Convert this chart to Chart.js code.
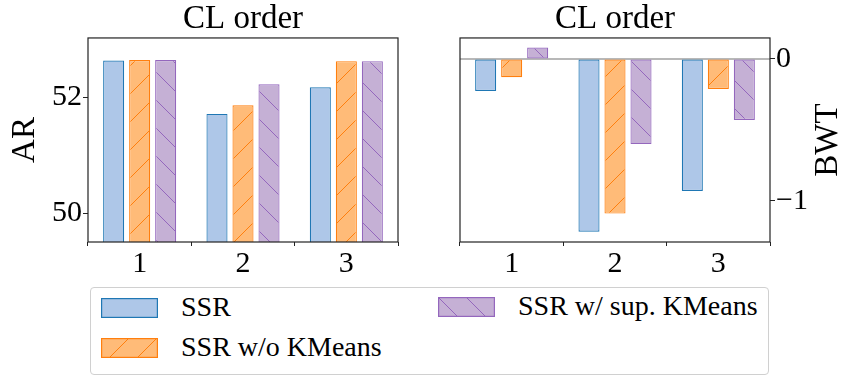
<!DOCTYPE html>
<html>
<head>
<meta charset="utf-8">
<script src="https://cdn.jsdelivr.net/npm/chart.js@4.4.1/dist/chart.umd.min.js"></script>
<style>
  body { margin: 0; background: #fff; width: 858px; height: 392px; position: relative; overflow: hidden; }
  canvas { position: absolute; top: 0; }
  #legend { position: absolute; left: 90px; top: 287px; width: 677px; height: 86px; border: 1px solid #d0d0d0; border-radius: 4px; font-family: "Liberation Serif", serif; font-size: 28px; color: #000; }
  .item { position: absolute; height: 20px; }
  .item canvas { position: absolute; left: 0; top: 0; }
  .item span { position: absolute; left: 80px; top: -7px; white-space: nowrap; line-height: 32px; }
</style>
</head>
<body>
<canvas id="left" width="430" height="280" style="left:0"></canvas>
<canvas id="right" width="428" height="280" style="left:430px"></canvas>
<div id="legend"></div>
<script>
// CL orders on the x-axis
var orders = ['1', '2', '3'];
// AR (left panel)
var arSSR = [52.63, 51.71, 52.17];
var arNoKm = [52.64, 51.86, 52.62];
var arSupKm = [52.64, 52.22, 52.62];
// BWT (right panel)
var bwtSSR = [-0.225, -1.218, -0.93];
var bwtNoKm = [-0.129, -1.09, -0.211];
var bwtSupKm = [0.08, -0.60, -0.43];
// tick labels
var arTicks = [50, 52];
var bwtTicks = [-1, 0];
var names = ['SSR', 'SSR w/o KMeans', 'SSR w/ sup. KMeans'];

var serif = '"Liberation Serif", "Times New Roman", serif';

function hatch(fill, stroke, dir) {
  var s = 28;
  var c = document.createElement('canvas');
  c.width = s; c.height = s;
  var g = c.getContext('2d');
  g.fillStyle = fill;
  g.fillRect(0, 0, s, s);
  if (dir) {
    g.strokeStyle = stroke;
    g.lineWidth = 1;
    g.beginPath();
    [-s, 0, s].forEach(function (k) {
      if (dir == '/') { g.moveTo(k, s); g.lineTo(k + s, 0); }
      else { g.moveTo(k, 0); g.lineTo(k + s, s); }
    });
    g.stroke();
  }
  return g.createPattern(c, 'repeat');
}

var styles = [
  { fill: '#aec7e8', edge: '#1f77b4', dir: null },
  { fill: '#ffbb78', edge: '#ff7f0e', dir: '/' },
  { fill: '#c5b0d5', edge: '#9467bd', dir: '\\' }
];

function sets(values) {
  return values.map(function (v, i) {
    return {
      label: names[i],
      data: v,
      backgroundColor: hatch(styles[i].fill, styles[i].edge, styles[i].dir),
      borderColor: styles[i].edge,
      borderWidth: 1.2,
      borderSkipped: false,
      categoryPercentage: 0.755,
      barPercentage: 0.81
    };
  });
}

// box around the plot area
var frame = {
  id: 'frame',
  beforeDatasetsDraw: function (chart, args, opts) {
    var a = chart.chartArea, ctx = chart.ctx;
    if (opts.zero) {
      var y = chart.scales.y.getPixelForValue(0);
      ctx.save();
      ctx.strokeStyle = '#a0a0a0';
      ctx.lineWidth = 1.5;
      ctx.beginPath(); ctx.moveTo(a.left, y); ctx.lineTo(a.right, y); ctx.stroke();
      ctx.restore();
    }
  },
  afterDraw: function (chart, args, opts) {
    var a = chart.chartArea, ctx = chart.ctx;
    ctx.save();
    ctx.strokeStyle = '#222';
    ctx.lineWidth = 1.2;
    ctx.strokeRect(a.left, a.top, a.right - a.left, a.bottom - a.top);
    if (opts.rightTitle) {
      ctx.translate(398, (a.top + a.bottom) / 2);
      ctx.rotate(-Math.PI / 2);
      ctx.fillStyle = '#000';
      ctx.font = '33px ' + serif;
      ctx.textAlign = 'center';
      ctx.textBaseline = 'middle';
      ctx.fillText(opts.rightTitle, 0, 0);
    }
    ctx.restore();
  }
};

function xScale() {
  return {
    ticks: { color: '#000', font: { family: serif, size: 30 }, padding: 0 },
    grid: { drawOnChartArea: false, tickLength: 4, tickColor: '#222' },
    border: { display: false },
    afterFit: function (s) { s.height = 38; }
  };
}

function common(pad, frameOpts) {
  return {
    responsive: false,
    animation: false,
    layout: { padding: pad },
    plugins: {
      legend: { display: false },
      tooltip: { enabled: false },
      title: { display: true, text: 'CL order', color: '#000', fullSize: false,
        font: { family: serif, size: 33, weight: 'normal', lineHeight: 1.12 }, padding: { top: 0, bottom: 0 } },
      frame: frameOpts
    }
  };
}

var leftOpts = common({ top: 1, left: 0, right: 32, bottom: 0 }, {});
leftOpts.scales = {
  x: xScale(),
  y: {
    min: 49.5, max: 53.02,
    afterBuildTicks: function (s) { s.ticks = arTicks.map(function (v) { return { value: v }; }); },
    ticks: { color: '#000', font: { family: serif, size: 30 }, padding: 1 },
    grid: { drawOnChartArea: false, tickLength: 5, tickColor: '#222' },
    border: { display: false },
    title: { display: true, text: 'AR', color: '#000', font: { family: serif, size: 33 }, padding: { top: 6, bottom: 0 } },
    afterFit: function (s) { s.width = 88; }
  }
};

new Chart(document.getElementById('left'), {
  type: 'bar',
  data: { labels: orders, datasets: sets([arSSR, arNoKm, arSupKm]) },
  options: leftOpts,
  plugins: [frame]
});

var rightOpts = common({ top: 1, left: 30, right: 0, bottom: 0 }, { zero: true, rightTitle: 'BWT' });
rightOpts.scales = {
  x: xScale(),
  y: {
    position: 'right',
    min: -1.29, max: 0.148,
    afterBuildTicks: function (s) { s.ticks = bwtTicks.map(function (v) { return { value: v }; }); },
    ticks: { color: '#000', font: { family: serif, size: 30 }, padding: 1,
      callback: function (v) { return v < 0 ? '\u2212' + Math.abs(v) : String(v); } },
    grid: { drawOnChartArea: false, tickLength: 5, tickColor: '#222' },
    border: { display: false },
    afterFit: function (s) { s.width = 88; }
  }
};

new Chart(document.getElementById('right'), {
  type: 'bar',
  data: { labels: orders, datasets: sets([bwtSSR, bwtNoKm, bwtSupKm]) },
  options: rightOpts,
  plugins: [frame]
});

// legend
var spots = [[10, 10], [10, 50], [347, 9]];
var legend = document.getElementById('legend');
names.forEach(function (n, i) {
  var d = document.createElement('div');
  d.className = 'item';
  d.style.left = spots[i][0] + 'px';
  d.style.top = spots[i][1] + 'px';
  var c = document.createElement('canvas');
  c.width = 57; c.height = 20;
  var g = c.getContext('2d');
  g.fillStyle = hatch(styles[i].fill, styles[i].edge, styles[i].dir);
  g.fillRect(0, 0, 57, 20);
  g.strokeStyle = styles[i].edge;
  g.lineWidth = 1.2;
  g.strokeRect(0.6, 0.6, 55.8, 18.8);
  var t = document.createElement('span');
  t.textContent = n;
  d.appendChild(c);
  d.appendChild(t);
  legend.appendChild(d);
});
</script>
</body>
</html>
